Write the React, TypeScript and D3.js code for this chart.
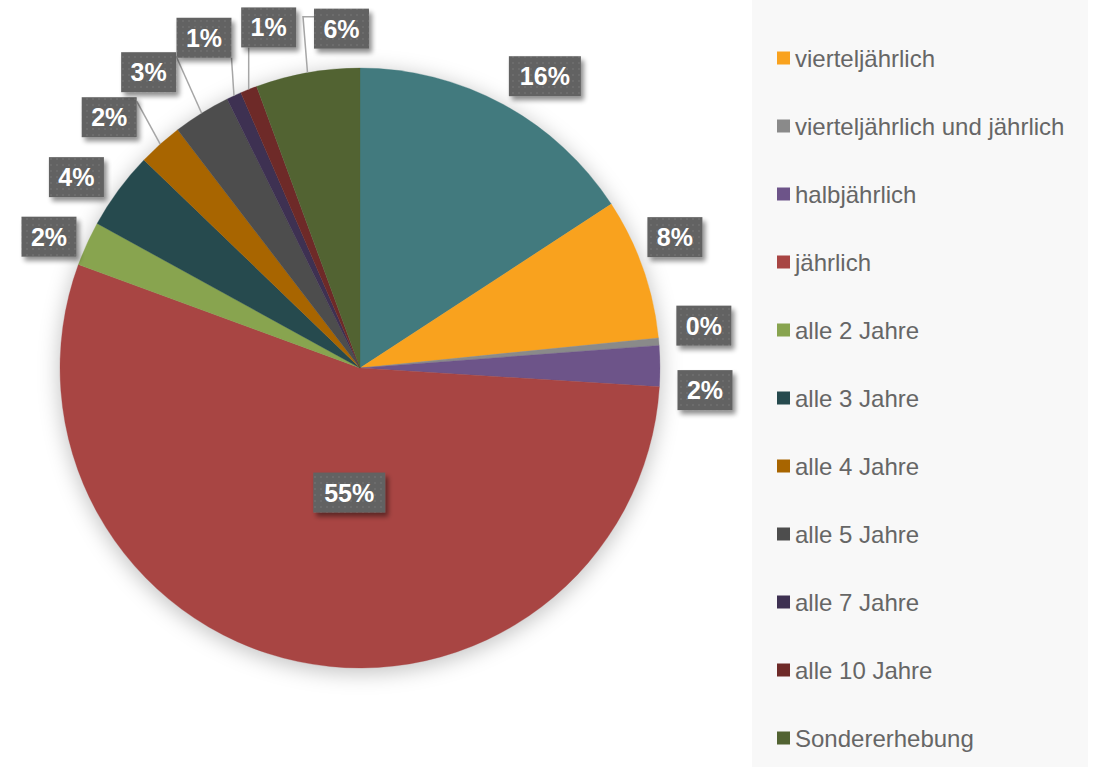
import React from "react";
import * as d3 from "d3";

const categories = [
  "monatlich",
  "vierteljährlich",
  "vierteljährlich und jährlich",
  "halbjährlich",
  "jährlich",
  "alle 2 Jahre",
  "alle 3 Jahre",
  "alle 4 Jahre",
  "alle 5 Jahre",
  "alle 7 Jahre",
  "alle 10 Jahre",
  "Sondererhebung",
];
const values = [15.8, 7.6, 0.4, 2.2, 54.6, 2.4, 4.2, 2.4, 3.1, 0.8, 0.9, 5.6];
const colors = [
  "#427A7E", "#F9A21E", "#8A8A8A", "#6D5489", "#A84543", "#88A44F",
  "#264A4E", "#A86500", "#4D4D4D", "#3E3152", "#6E2A28", "#526332",
];
// label box offsets relative to the outer arc point at each slice's mid angle
const labelOffsets: [number, number][] = [
  [42, -28], [32, -31], [45, -16], [45, 24], [51, -169], [-38, -7],
  [-42, -13], [-51, -27], [-53, -41], [-30, -58], [20, -62], [34, -44],
];
const insideLabels = [false, false, false, false, true, false, false, false, false, false, false, false];

const W = 1096, H = 767;
const cx = 360, cy = 368, R = 300;

export default function App() {
  const total = d3.sum(values);
  const pie = d3.pie<number>().sort(null).value((d) => d)(values);
  const arc = d3.arc<d3.PieArcDatum<number>>().innerRadius(0).outerRadius(R);
  const fmt = (v: number) => `${Math.round((v / total) * 100)}%`;
  const legendY = d3.scaleLinear().domain([1, 2]).range([58, 126]);

  const labels = pie.map((p, i) => {
    const mid = (p.startAngle + p.endAngle) / 2;
    const px = cx + R * Math.sin(mid);
    const py = cy - R * Math.cos(mid);
    const text = fmt(values[i]);
    const bw = text.length === 3 ? 72 : 55;
    const bh = 40;
    const bx = px + labelOffsets[i][0] - bw / 2;
    const by = py + labelOffsets[i][1] - bh / 2;
    let leader: string | null = null;
    if (!insideLabels[i]) {
      const nx = Math.max(bx, Math.min(px, bx + bw));
      const ny = Math.max(by, Math.min(py, by + bh));
      const dist = Math.hypot(nx - px, ny - py);
      if (dist > 18) {
        if (bx > px) {
          leader = `M${px},${py}L${bx - 11},${by + 8}L${bx},${by + 8}`;
        } else if (px > bx + bw + 10) {
          leader = `M${px},${py}L${bx + bw},${by + 4}`;
        } else {
          leader = `M${px},${py}L${Math.max(bx, Math.min(px, bx + bw))},${by + bh}`;
        }
      }
    }
    return { text, bx, by, bw, bh, leader, i };
  });

  return (
    <div style={{ position: "fixed", left: 0, top: 0, width: W, height: H, background: "#fff" }}>
      <svg width={W} height={H} style={{ display: "block", fontFamily: "'Liberation Sans', Arial, sans-serif" }}>
        <defs>
          <filter id="pieShadow" x="-30%" y="-30%" width="160%" height="160%">
            <feGaussianBlur stdDeviation="10" />
          </filter>
          <filter id="boxShadow" x="-30%" y="-30%" width="170%" height="170%">
            <feGaussianBlur in="SourceAlpha" stdDeviation="2.5" />
            <feOffset dx="3" dy="4" result="o" />
            <feComponentTransfer>
              <feFuncA type="linear" slope="0.45" />
            </feComponentTransfer>
            <feMerge>
              <feMergeNode />
              <feMergeNode in="SourceGraphic" />
            </feMerge>
          </filter>
          <pattern id="dots" width="6" height="6" patternUnits="userSpaceOnUse">
            <rect width="6" height="6" fill="#626262" />
            <rect x="2" y="2" width="2" height="2" fill="#6C6C6C" />
          </pattern>
        </defs>
        <rect x={752} y={0} width={336} height={H} fill="#F8F8F8" />
        <circle cx={cx} cy={cy + 4} r={R + 2} fill="rgba(0,0,0,0.22)" filter="url(#pieShadow)" />
        <g transform={`translate(${cx},${cy})`}>
          {pie.map((p, i) => (
            <path key={i} d={arc(p) || ""} fill={colors[i]} stroke={colors[i]} strokeWidth={0.3} />
          ))}
        </g>
        {labels.map((l) =>
          l.leader ? <path key={"ld" + l.i} d={l.leader} fill="none" stroke="#A6A6A6" strokeWidth={1.5} /> : null
        )}
        {labels.map((l) => (
          <g key={"lb" + l.i}>
            <rect x={l.bx} y={l.by} width={l.bw} height={l.bh} fill="url(#dots)" filter="url(#boxShadow)" />
            <text
              x={l.bx + l.bw / 2}
              y={l.by + l.bh / 2}
              dy="0.36em"
              textAnchor="middle"
              fill="#fff"
              fontWeight="bold"
              fontSize={25}
            >
              {l.text}
            </text>
          </g>
        ))}
        {categories.map((c, i) => {
          const y = legendY(i);
          if (y < 0) return null;
          return (
            <g key={"lg" + i}>
              <rect x={777} y={y - 6.5} width={13} height={13} fill={colors[i]} />
              <text x={795} y={y} dy="0.36em" fontSize={24} fill="#666">
                {c}
              </text>
            </g>
          );
        })}
      </svg>
    </div>
  );
}
